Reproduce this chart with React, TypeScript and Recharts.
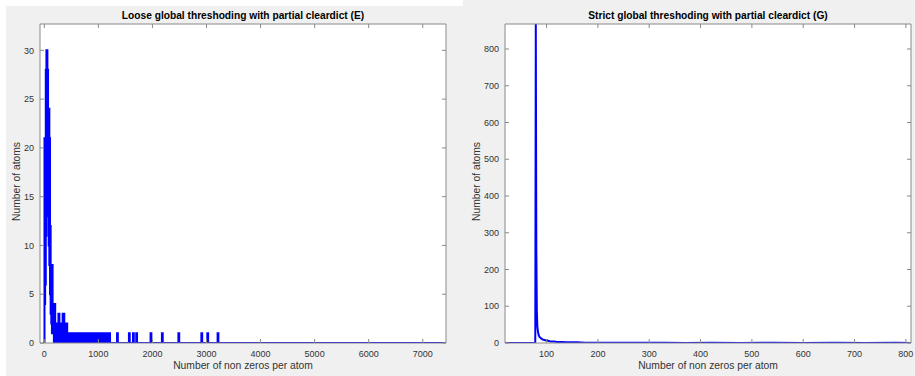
import React from 'react';
import { LineChart, Line, XAxis, YAxis, CartesianGrid } from 'recharts';

// Loose global thresholding (E): number of atoms per non-zero count
const leftNnz = [
  0, 3, 9, 15, 21, 27, 33, 39, 45, 51, 57, 63, 69, 75, 81, 87, 93, 99, 105, 111,
  117, 123, 129, 135, 141, 147, 153, 159, 165, 171, 177, 183, 189, 195, 201, 207, 213, 219, 225, 231,
  237, 243, 249, 255, 261, 267, 273, 279, 285, 291, 297, 303, 309, 315, 321, 327, 333, 339, 345, 351,
  357, 363, 369, 375, 381, 387, 393, 399, 405, 411, 417, 423,
  430, 440, 450, 460, 470, 480, 490, 500, 510, 520,
  530, 540, 550, 560, 570, 580, 590, 600, 610, 620,
  630, 640, 650, 665, 680, 695, 705, 720, 735, 750,
  760, 775, 790, 805, 820, 835, 850, 865, 880, 895,
  915, 930, 955, 970, 995, 1010, 1040, 1055, 1065, 1080,
  1100, 1115, 1150, 1165, 1200, 1215, 1345, 1360, 1565, 1580,
  1640, 1655, 1700, 1715, 1965, 1980, 2175, 2190, 2480, 2495,
  2905, 2920, 3015, 3030, 3205, 3220,
  7430,
];
const leftAtoms = [
  0, 21, 4, 21, 6, 28, 11, 30, 15, 30, 19, 28, 13, 24, 10, 24, 8, 21, 5, 12,
  3, 8, 2, 8, 1, 8, 2, 4, 1, 4, 0, 4, 1, 4, 2, 0, 2, 1, 2, 0,
  2, 1, 2, 0, 3, 1, 3, 0, 2, 1, 2, 0, 1, 2, 0, 2, 1, 3, 0, 3,
  1, 3, 0, 2, 1, 2, 0, 2, 1, 0, 2, 0,
  1, 0, 1, 0, 1, 0, 1, 0, 1, 0,
  1, 0, 1, 0, 1, 0, 1, 0, 1, 0,
  1, 0, 1, 0, 1, 0, 1, 0, 1, 0,
  1, 0, 1, 0, 1, 0, 1, 0, 1, 0,
  1, 0, 1, 0, 1, 0, 1, 0, 1, 0,
  1, 0, 1, 0, 1, 0, 1, 0, 1, 0,
  1, 0, 1, 0, 1, 0, 1, 0, 1, 0,
  1, 0, 1, 0, 1, 0,
  0,
];
const leftXTicks = [0, 1000, 2000, 3000, 4000, 5000, 6000, 7000];
const leftYTicks = [0, 5, 10, 15, 20, 25, 30];

// Strict global thresholding (G)
const rightNnz = [
  19, 78, 79, 80, 81, 82, 83, 84, 85, 86, 88, 90, 92, 94, 96, 98, 100, 103, 106, 110,
  115, 120, 125, 130, 140, 150, 160, 175, 190, 210, 230, 260, 290, 330, 370, 420, 480, 540, 600, 660,
  720, 780, 810,
];
const rightAtoms = [
  0, 0, 868, 260, 90, 45, 33, 25, 20, 17, 14, 12, 10, 9, 8, 7, 8, 6, 5, 4,
  4, 3, 3, 3, 2, 2, 2, 1, 1, 1, 1, 1, 1, 1, 0, 1, 0, 1, 0, 1,
  0, 1, 0,
];
const rightXTicks = [100, 200, 300, 400, 500, 600, 700, 800];
const rightYTicks = [0, 100, 200, 300, 400, 500, 600, 700, 800];

const FONT = '"Liberation Sans", Arial, Helvetica, sans-serif';
const AXIS = '#8a8a8a';
const TXT = '#333';

const leftData = leftNnz.map((x, i) => ({ x, y: leftAtoms[i] }));
const rightData = rightNnz.map((x, i) => ({ x, y: rightAtoms[i] }));

const BottomTick = (p: any) => (
  <g>
    <line x1={p.x} x2={p.x} y1={p.y} y2={p.y - 4} stroke={AXIS} />
    <text x={p.x} y={p.y + 14} textAnchor="middle" fontSize={9} fill={TXT} fontFamily={FONT}>
      {p.payload.value}
    </text>
  </g>
);
const TopTick = (p: any) => <line x1={p.x} x2={p.x} y1={p.y} y2={p.y + 4} stroke={AXIS} />;
const LeftTick = (p: any) => (
  <g>
    <line x1={p.x} x2={p.x + 4} y1={p.y} y2={p.y} stroke={AXIS} />
    <text x={p.x - 6} y={p.y + 3.2} textAnchor="end" fontSize={9} fill={TXT} fontFamily={FONT}>
      {p.payload.value}
    </text>
  </g>
);
const RightTick = (p: any) => <line x1={p.x} x2={p.x - 4} y1={p.y} y2={p.y} stroke={AXIS} />;

type PanelProps = {
  data: { x: number; y: number }[];
  xDomain: [number, number];
  yDomain: [number, number];
  xTicks: number[];
  yTicks: number[];
  width: number;
  height: number;
  margin: { top: number; right: number; bottom: number; left: number };
  step: boolean;
};

// axis sizes are 20px; the margins below subtract them
const Panel = ({ data, xDomain, yDomain, xTicks, yTicks, width, height, margin, step }: PanelProps) => (
  <LineChart width={width} height={height} data={data}
    margin={{ top: margin.top - 20, right: margin.right - 20, bottom: margin.bottom - 20, left: margin.left - 20 }}>
    <CartesianGrid fill="#fff" horizontal={false} vertical={false} />
    <XAxis xAxisId="bottom" dataKey="x" type="number" domain={xDomain} ticks={xTicks} allowDataOverflow
      height={20} tickSize={0} tickMargin={0} tickLine={false} axisLine={{ stroke: AXIS }} tick={BottomTick} interval={0} />
    <XAxis xAxisId="top" orientation="top" dataKey="x" type="number" domain={xDomain} ticks={xTicks} allowDataOverflow
      height={20} tickSize={0} tickMargin={0} tickLine={false} axisLine={{ stroke: AXIS }} tick={TopTick} interval={0} />
    <YAxis yAxisId="left" type="number" domain={yDomain} ticks={yTicks} allowDataOverflow
      width={20} tickSize={0} tickMargin={0} tickLine={false} axisLine={{ stroke: AXIS }} tick={LeftTick} interval={0} />
    <YAxis yAxisId="right" orientation="right" type="number" domain={yDomain} ticks={yTicks} allowDataOverflow
      width={20} tickSize={0} tickMargin={0} tickLine={false} axisLine={{ stroke: AXIS }} tick={RightTick} interval={0} />
    <Line xAxisId="bottom" yAxisId="left" dataKey="y" type={step ? 'stepAfter' : 'linear'} stroke="#0000ff" strokeWidth={2}
      dot={false} isAnimationActive={false} />
  </LineChart>
);

const titleStyle: React.CSSProperties = {
  position: 'absolute', fontFamily: FONT, fontWeight: 'bold', fontSize: 10.2, color: '#000',
  textAlign: 'center', whiteSpace: 'nowrap',
};
const labelStyle: React.CSSProperties = {
  position: 'absolute', fontFamily: FONT, fontSize: 10.3, color: TXT, textAlign: 'center', whiteSpace: 'nowrap',
};

export default function App() {
  return (
    <div style={{ position: 'absolute', left: 0, top: 0, width: 915, height: 376, background: '#fff', overflow: 'hidden' }}>
      {/* left figure */}
      <div style={{ position: 'absolute', left: 6, top: 6, width: 457, height: 370, background: '#f0f0f0' }}>
        <Panel data={leftData} xDomain={[-80, 7430]} yDomain={[0, 32.7]} xTicks={leftXTicks} yTicks={leftYTicks}
          width={457} height={370} margin={{ top: 18, right: 17, bottom: 33, left: 34 }} step />
        <div style={{ ...titleStyle, left: 34, width: 406, top: 4 }}>Loose global threshoding with partial cleardict (E)</div>
        <div style={{ ...labelStyle, left: 34, width: 406, top: 354 }}>Number of non zeros per atom</div>
        <div style={{ ...labelStyle, left: 10 - 80, top: 177 - 7, width: 160, transform: 'rotate(-90deg)' }}>Number of atoms</div>
      </div>
      {/* right figure */}
      <div style={{ position: 'absolute', left: 463, top: 0, width: 452, height: 376, background: '#f0f0f0' }}>
        <Panel data={rightData} xDomain={[19, 810]} yDomain={[0, 868]} xTicks={rightXTicks} yTicks={rightYTicks}
          width={452} height={376} margin={{ top: 24, right: 4, bottom: 33, left: 42 }} step={false} />
        <div style={{ ...titleStyle, left: 42, width: 406, top: 10 }}>Strict global threshoding with partial cleardict (G)</div>
        <div style={{ ...labelStyle, left: 42, width: 406, top: 360 }}>Number of non zeros per atom</div>
        <div style={{ ...labelStyle, left: 13 - 80, top: 183 - 7, width: 160, transform: 'rotate(-90deg)' }}>Number of atoms</div>
      </div>
    </div>
  );
}
